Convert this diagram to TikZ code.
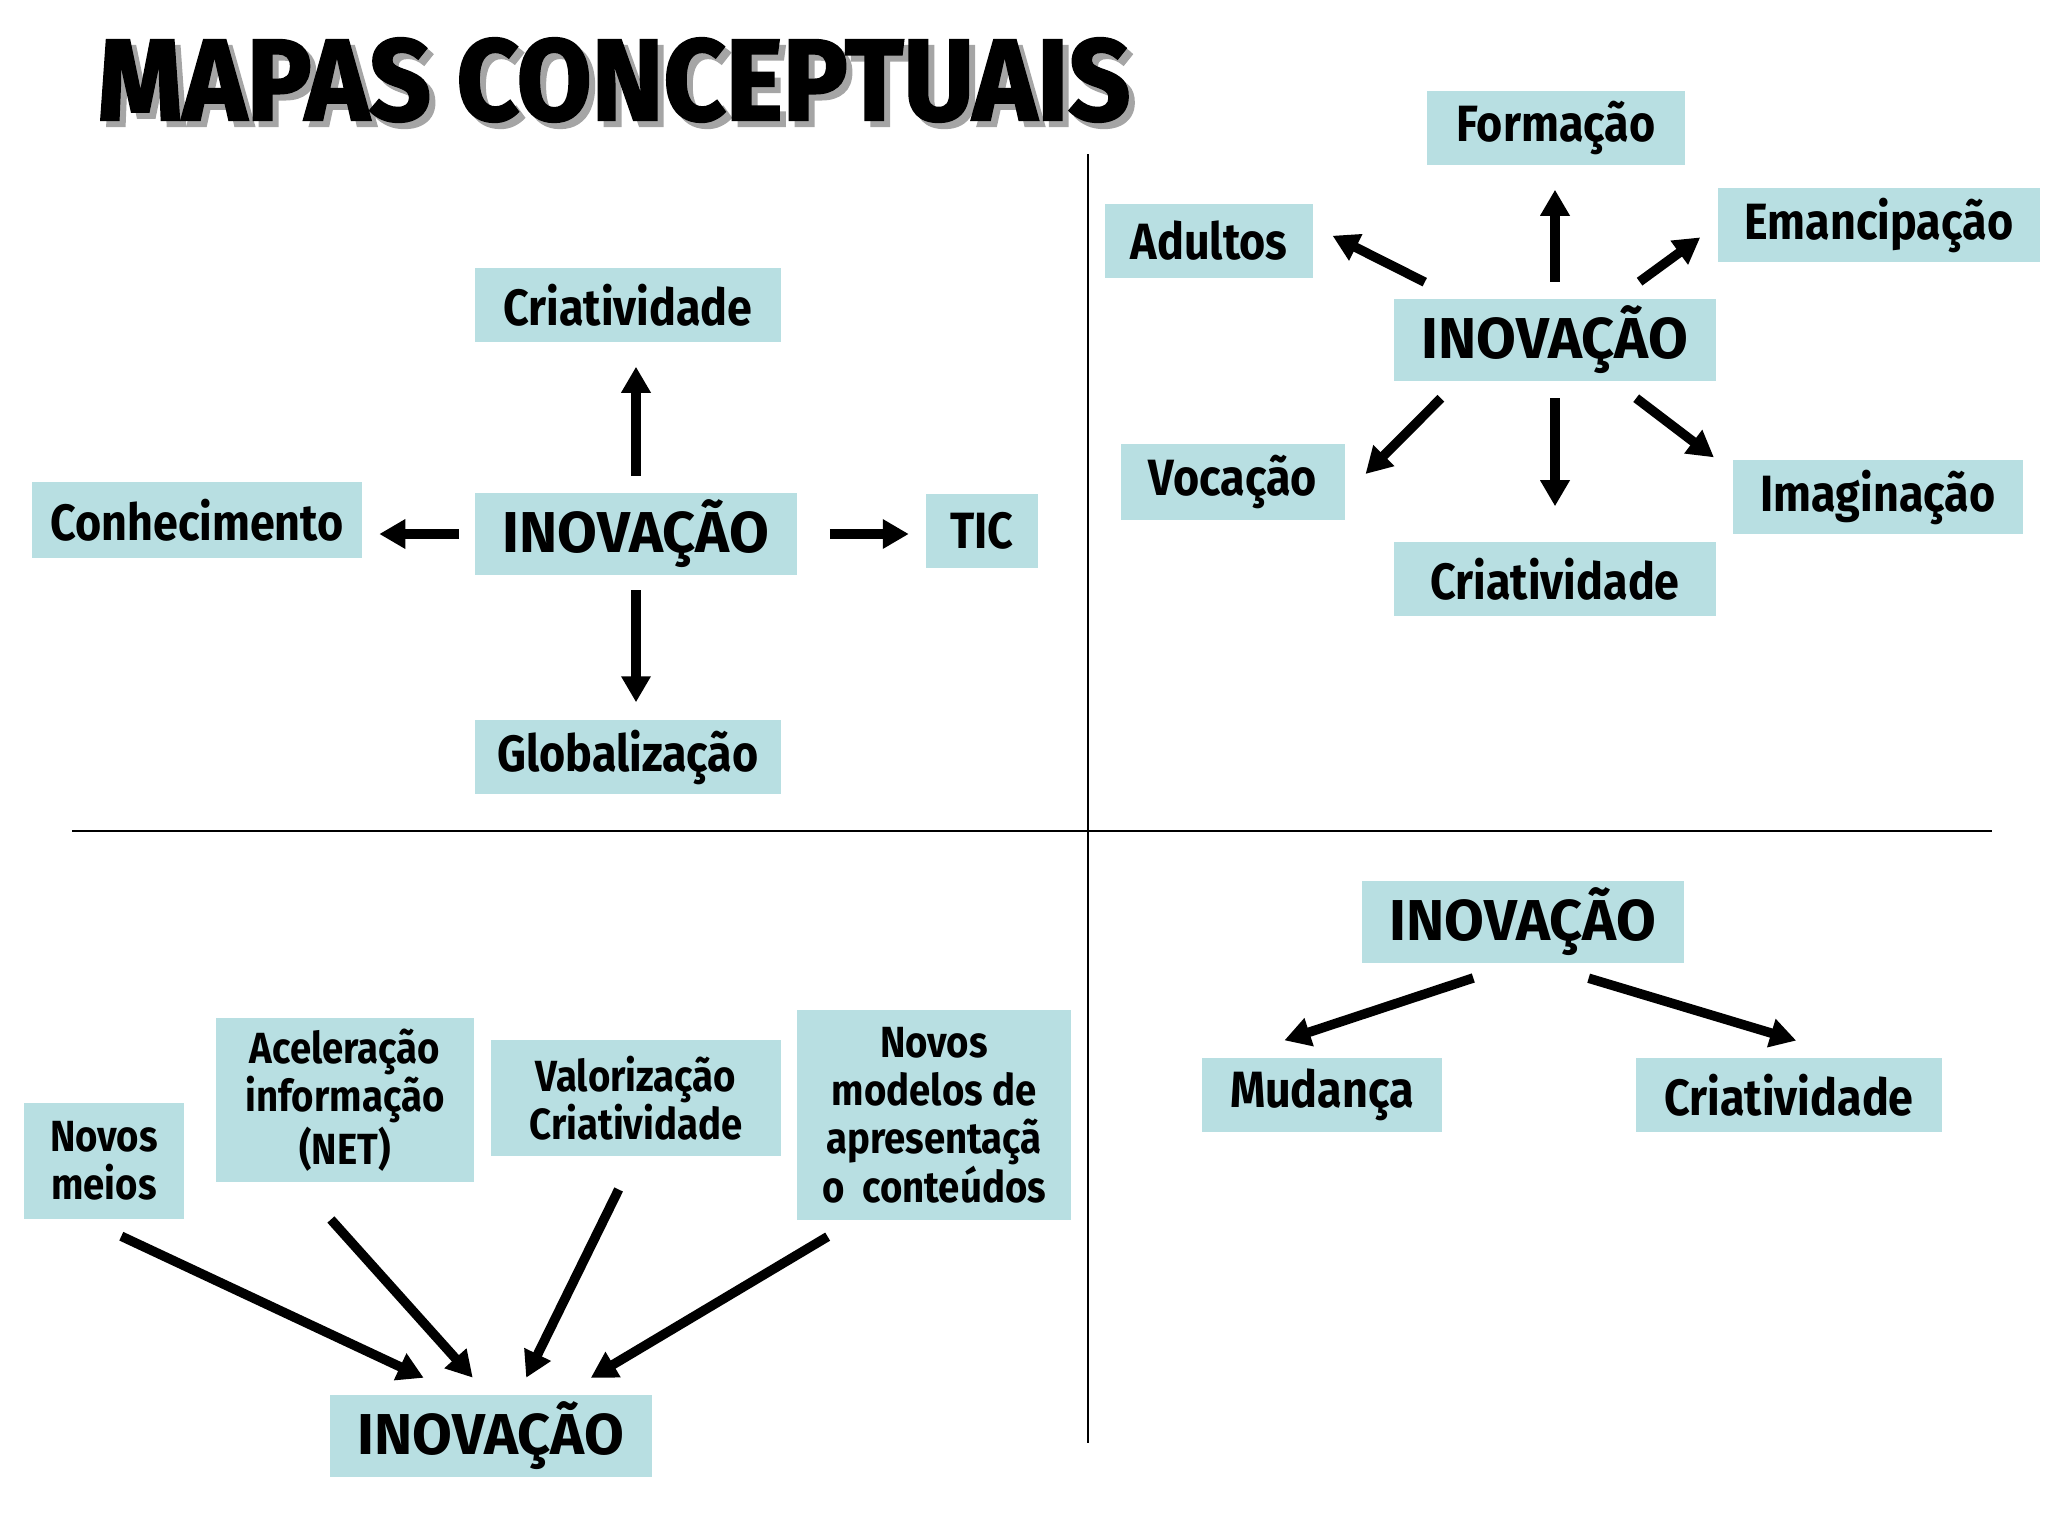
\documentclass[tikz,border=0pt]{standalone}
\usepackage{graphicx}
\usepackage{fontspec}
\setmainfont{Fira Sans}
\newfontfamily\rotulo{Fira Sans}[FakeStretch=0.88]
\newfontfamily\titulo{Fira Sans}[BoldFeatures={FakeBold=2}]
\definecolor{azulclaro}{RGB}{184,223,226}
\definecolor{sombra}{RGB}{165,165,165}
\usetikzlibrary{arrows.meta}

\begin{document}
\begin{tikzpicture}[x=0.01cm, y=-0.01cm,
  caixa/.style 2 args={fill=azulclaro, minimum width=#1, minimum height=#2, inner sep=0pt, align=center, font=\rotulo\bfseries\fontsize{14.5}{13.7}\selectfont},
  caixamenor/.style 2 args={caixa={#1}{#2}, font=\rotulo\bfseries\fontsize{12.4}{13.7}\selectfont},
  inov/.style={caixa={3.22cm}{0.81cm}, font=\bfseries\fontsize{16.4}{18}\selectfont},
  seta/.style={line width=0.095cm, -{Triangle[length=0.26cm, width=0.28cm]}},
  divisoria/.style={line width=0.6pt}]
\useasboundingbox (0,0) rectangle (2048,1536);

\node[text=sombra] (titulosombra) at (620,86) {\resizebox{10.32cm}{0.82cm}{\titulo\bfseries MAPAS CONCEPTUAIS}};
\node (titulo) at (614,80) {\resizebox{10.32cm}{0.82cm}{\titulo\bfseries MAPAS CONCEPTUAIS}};

\draw[divisoria] (1088,154) -- (1088,1443);
\draw[divisoria] (72,831) -- (1992,831);

\foreach \nome/\x/\y in {inov1/636/534, inov2/1555/340, inov3/491/1436, inov4/1523/922} {
  \node[inov] (\nome) at (\x,\y) {INOVAÇÃO};
}
\foreach \nome/\x/\y/\w/\h/\texto in {crit1/628/305/3.06/0.74/Criatividade, conh/197/520/3.29/0.75/Conhecimento, tic/982/531/1.11/0.74/TIC, glob/628/757/3.06/0.74/Globalização, form/1556/128/2.57/0.74/Formação, adul/1209/241/2.08/0.74/Adultos, eman/1879/225/3.22/0.73/Emancipação, voca/1233/482/2.24/0.75/Vocação, crit2/1555/579/3.21/0.74/Criatividade, imag/1878/497/2.90/0.74/Imaginação, muda/1322/1095/2.40/0.74/Mudança, crit4/1789/1095/3.05/0.74/Criatividade} {
  \node[caixa={\w cm}{\h cm}] (\nome) at (\x,\y) {\texto};
}
\foreach \nome/\x/\y/\w/\h/\texto in {novm/104/1161/1.60/1.15/{Novos\\meios}, acel/345/1100/2.57/1.63/{Aceleração\\informação\\(NET)}, valo/636/1098/2.89/1.15/{Valorização\\Criatividade}, novmod/934/1115/2.73/2.10/{Novos\\modelos de\\apresentaçã\\o~~conteúdos}} {
  \node[caixamenor={\w cm}{\h cm}] (\nome) at (\x,\y) {\texto};
}

\foreach \a/\b/\s/\e in {inov1.north/inov1.north |- crit1.south/0.17/0.24, inov1.west/inov1.west -| conh.east/0.15/0.17, inov1.east/inov1.east -| tic.west/0.32/0.17, inov1.south/inov1.south |- glob.north/0.15/0.17,
  inov2.north/inov2.north |- form.south/0.17/0.24, inov2.south/inov2.south |- crit2.north/0.17/0.35, inov2.157/adul.8/0.37/0.21, inov2.34/eman.west/0.29/0.21, inov2.203/voca.-6/0.24/0.28, inov2.-35/imag.170/0.28/0.23,
  novm.252/inov3.127/0.40/0.40, acel.-120/inov3.94/0.50/0.23, valo.-91/inov3.57/0.37/0.19, novmod.-127/inov3.30/0.31/0.33,
  inov4.-97/muda.157/0.47/0.54, inov4.-69/crit4.31/0.52/0.58} {
  \draw[seta, shorten <=\s cm, shorten >=\e cm] (\a) -- (\b);
}
\end{tikzpicture}
\end{document}
